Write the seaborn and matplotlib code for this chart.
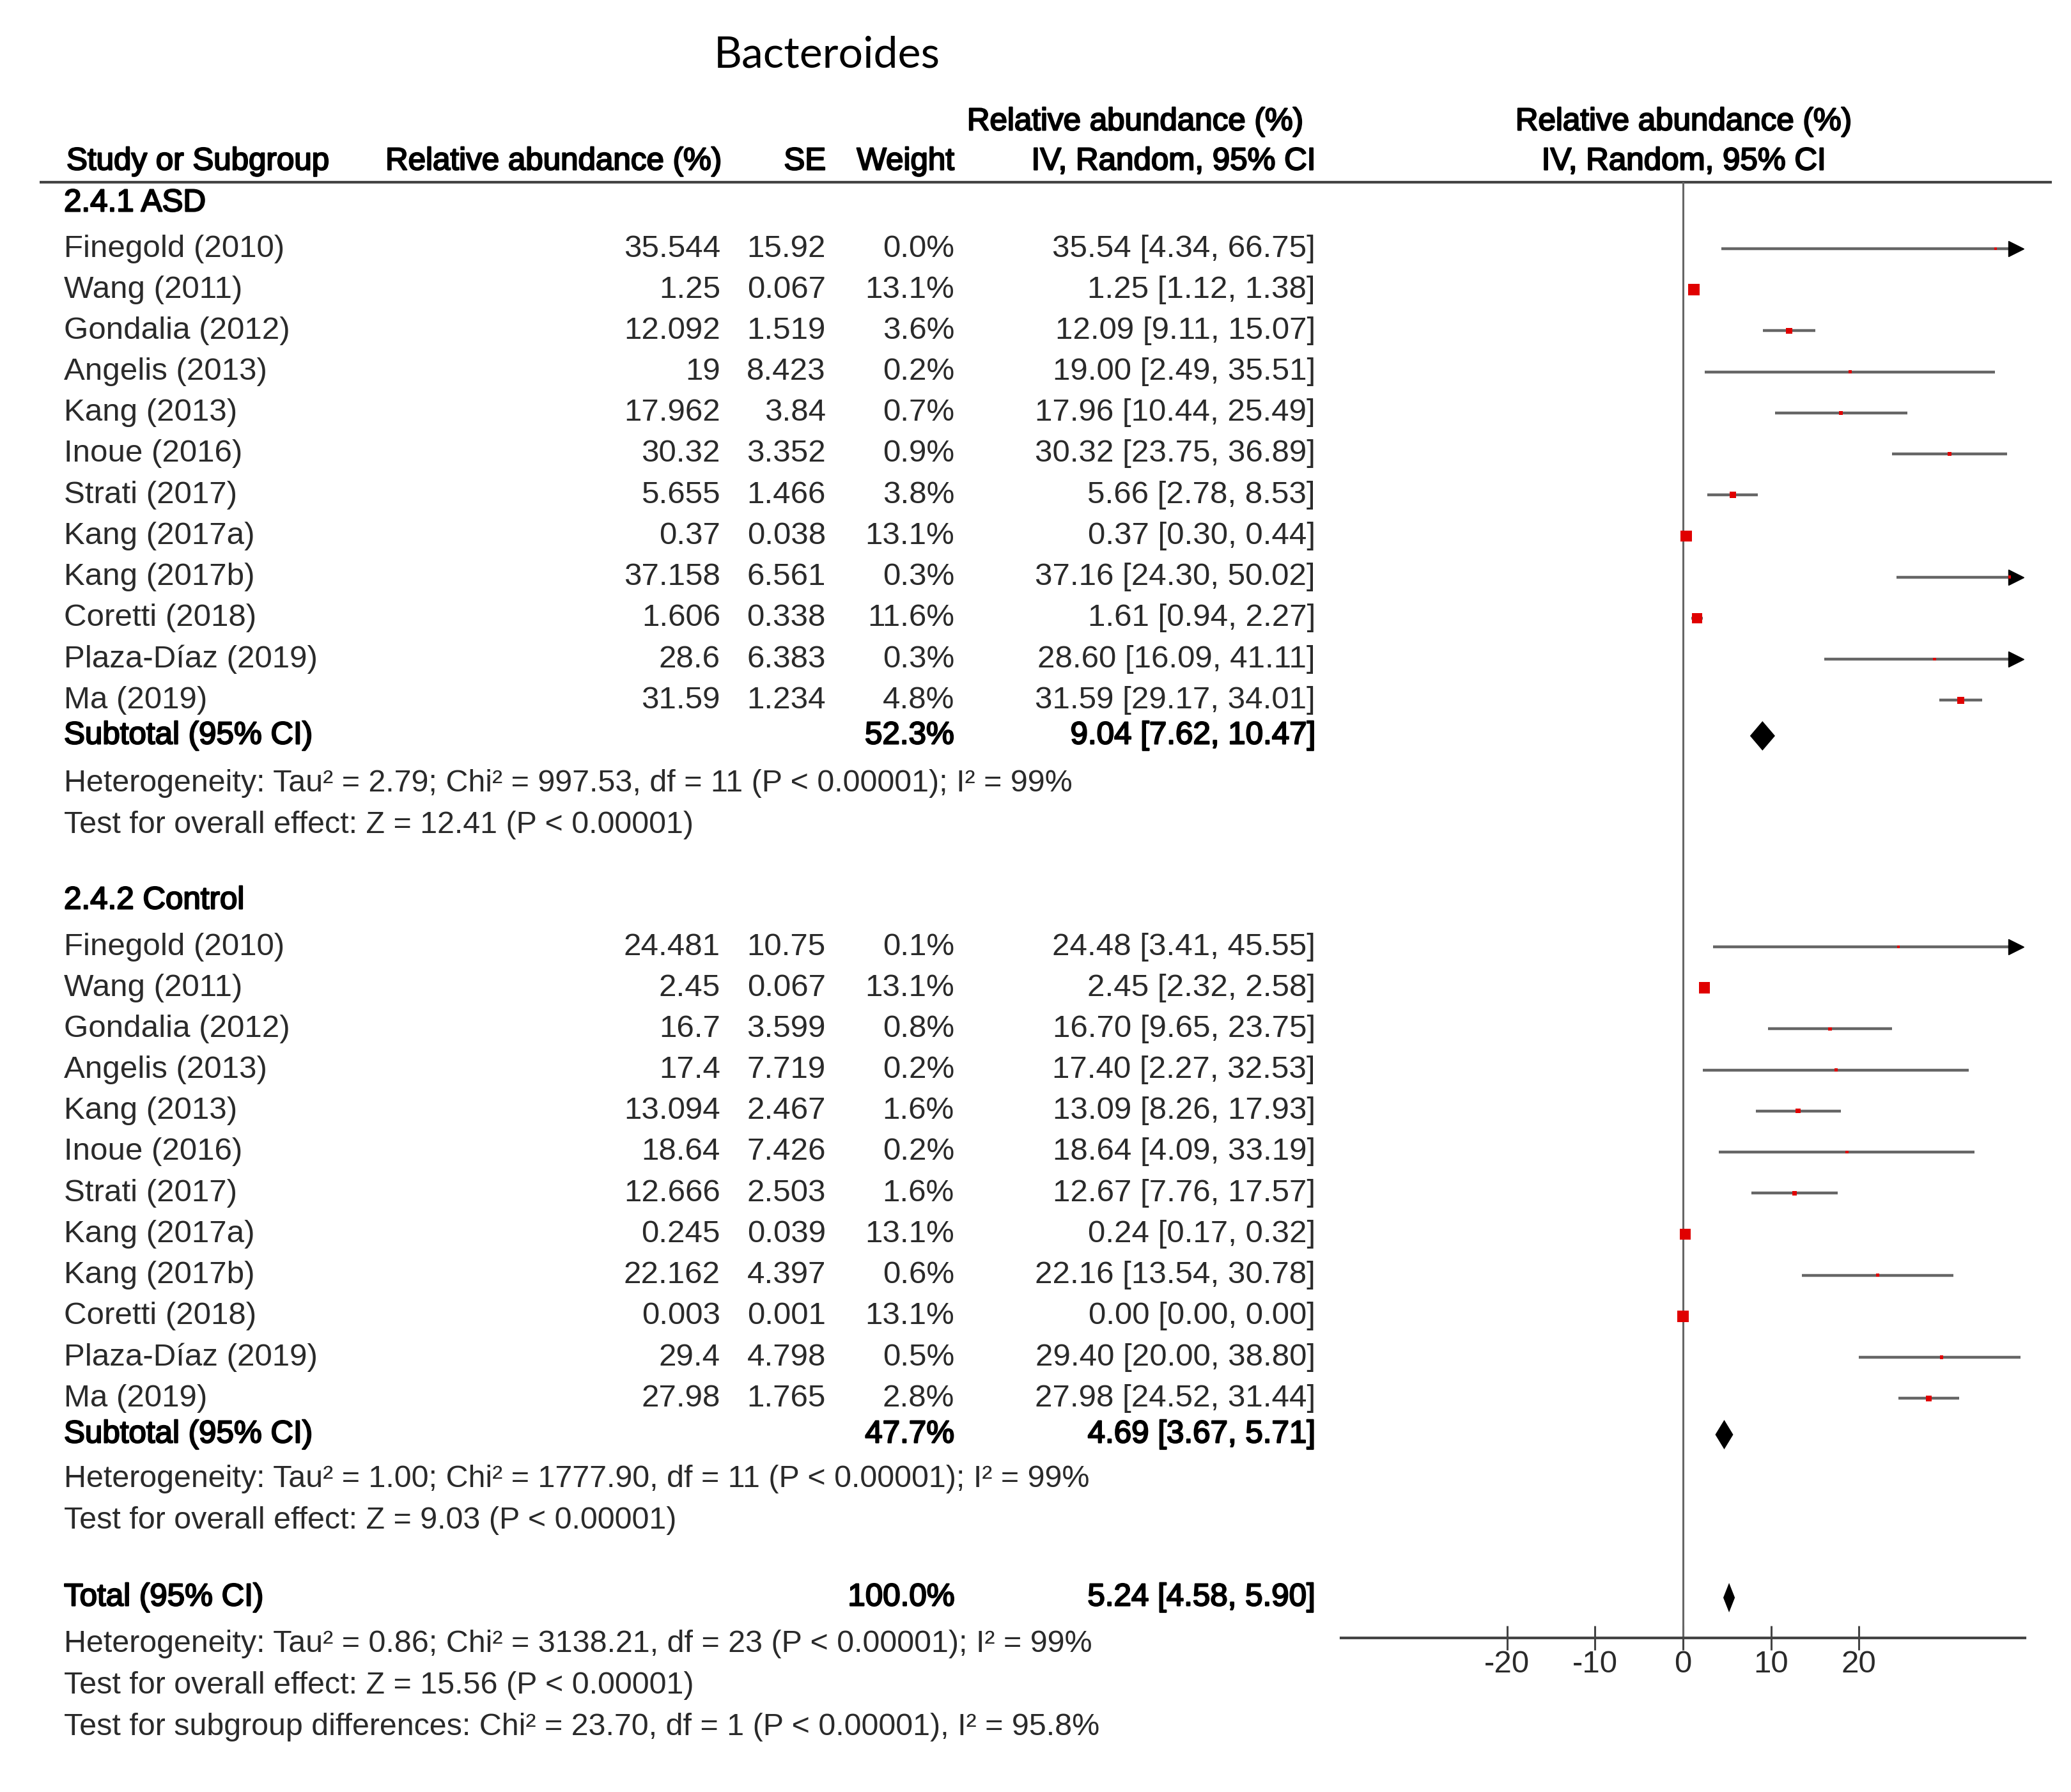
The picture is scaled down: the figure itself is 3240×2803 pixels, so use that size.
import numpy as np
import pandas as pd
import seaborn as sns
import matplotlib.pyplot as plt
import matplotlib.patheffects as pe

sns.set_style('white')
plt.rcParams['font.family'] = ['Liberation Sans', 'DejaVu Sans']

# study data
studies = ['Finegold (2010)', 'Wang (2011)', 'Gondalia (2012)', 'Angelis (2013)', 'Kang (2013)',
           'Inoue (2016)', 'Strati (2017)', 'Kang (2017a)', 'Kang (2017b)', 'Coretti (2018)',
           'Plaza-Díaz (2019)', 'Ma (2019)']

asd_mean = [35.544, 1.25, 12.092, 19, 17.962, 30.32, 5.655, 0.37, 37.158, 1.606, 28.6, 31.59]
asd_se = [15.92, 0.067, 1.519, 8.423, 3.84, 3.352, 1.466, 0.038, 6.561, 0.338, 6.383, 1.234]
asd_weight = [0.0, 13.1, 3.6, 0.2, 0.7, 0.9, 3.8, 13.1, 0.3, 11.6, 0.3, 4.8]
asd_est = [35.54, 1.25, 12.09, 19.00, 17.96, 30.32, 5.66, 0.37, 37.16, 1.61, 28.60, 31.59]
asd_lo = [4.34, 1.12, 9.11, 2.49, 10.44, 23.75, 2.78, 0.30, 24.30, 0.94, 16.09, 29.17]
asd_hi = [66.75, 1.38, 15.07, 35.51, 25.49, 36.89, 8.53, 0.44, 50.02, 2.27, 41.11, 34.01]

ctl_mean = [24.481, 2.45, 16.7, 17.4, 13.094, 18.64, 12.666, 0.245, 22.162, 0.003, 29.4, 27.98]
ctl_se = [10.75, 0.067, 3.599, 7.719, 2.467, 7.426, 2.503, 0.039, 4.397, 0.001, 4.798, 1.765]
ctl_weight = [0.1, 13.1, 0.8, 0.2, 1.6, 0.2, 1.6, 13.1, 0.6, 13.1, 0.5, 2.8]
ctl_est = [24.48, 2.45, 16.70, 17.40, 13.09, 18.64, 12.67, 0.24, 22.16, 0.00, 29.40, 27.98]
ctl_lo = [3.41, 2.32, 9.65, 2.27, 8.26, 4.09, 7.76, 0.17, 13.54, 0.00, 20.00, 24.52]
ctl_hi = [45.55, 2.58, 23.75, 32.53, 17.93, 33.19, 17.57, 0.32, 30.78, 0.00, 38.80, 31.44]

# pooled: ASD subtotal, Control subtotal, Total
pooled_label = ['Subtotal (95% CI)', 'Subtotal (95% CI)', 'Total (95% CI)']
pooled_weight = ['52.3%', '47.7%', '100.0%']
pooled_est = [9.04, 4.69, 5.24]
pooled_lo = [7.62, 3.67, 4.58]
pooled_hi = [10.47, 5.71, 5.90]

het_asd = ['Heterogeneity: Tau² = 2.79; Chi² = 997.53, df = 11 (P < 0.00001); I² = 99%',
           'Test for overall effect: Z = 12.41 (P < 0.00001)']
het_ctl = ['Heterogeneity: Tau² = 1.00; Chi² = 1777.90, df = 11 (P < 0.00001); I² = 99%',
           'Test for overall effect: Z = 9.03 (P < 0.00001)']
het_tot = ['Heterogeneity: Tau² = 0.86; Chi² = 3138.21, df = 23 (P < 0.00001); I² = 99%',
           'Test for overall effect: Z = 15.56 (P < 0.00001)',
           'Test for subgroup differences: Chi² = 23.70, df = 1 (P < 0.00001), I² = 95.8%']

xticks = [-20, -10, 0, 10, 20]
xmax = 38.9

# layout (pixel rows of the 3241 x 2803 canvas)
W, H = 3241, 2803
step = 64.2
y_asd = 389 + step * np.arange(12)
y_ctl = 1481 + step * np.arange(12)
y_pool = [1151, 2244, 2499]
fs = 35.5
fs_het = 34.8
tc = '#2a2a2a'
heavy = [pe.withStroke(linewidth=1.6, foreground='black')]

fig = plt.figure(figsize=(W / 100, H / 100), dpi=100)
tx = fig.add_axes([0, 0, 1, 1])
tx.set_xlim(0, W)
tx.set_ylim(H, 0)
tx.axis('off')


def txt(x, y, s, ha='left', bold=False, size=fs):
    t = tx.text(x, y, s, ha=ha, va='center', fontsize=size,
                color='black' if bold else tc)
    if bold:
        t.set_path_effects(heavy)


tx.text(1294, 87, 'Bacteroides', ha='center', va='center', fontsize=49,
        family=['Lato', 'DejaVu Sans'], color='black')

# column headers
txt(1776, 191, 'Relative abundance (%)', ha='center', bold=True)
txt(2634, 191, 'Relative abundance (%)', ha='center', bold=True)
txt(104, 253, 'Study or Subgroup', bold=True)
txt(603, 253, 'Relative abundance (%)', bold=True)
txt(1292, 253, 'SE', ha='right', bold=True)
txt(1493, 253, 'Weight', ha='right', bold=True)
txt(2058, 253, 'IV, Random, 95% CI', ha='right', bold=True)
txt(2634, 253, 'IV, Random, 95% CI', ha='center', bold=True)
tx.hlines(285, 62, 3210, color='#444444', lw=3)

txt(100, 318, '2.4.1 ASD', bold=True)
txt(100, 1409, '2.4.2 Control', bold=True)

for ys, mean, se, wt, est, lo, hi in [(y_asd, asd_mean, asd_se, asd_weight, asd_est, asd_lo, asd_hi),
                                       (y_ctl, ctl_mean, ctl_se, ctl_weight, ctl_est, ctl_lo, ctl_hi)]:
    for i, y in enumerate(ys):
        txt(100, y, studies[i])
        txt(1127, y, f'{mean[i]:g}', ha='right')
        txt(1292, y, f'{se[i]:g}', ha='right')
        txt(1493, y, f'{wt[i]:.1f}%', ha='right')
        txt(2058, y, f'{est[i]:.2f} [{lo[i]:.2f}, {hi[i]:.2f}]', ha='right')

for i, y in enumerate(y_pool):
    txt(100, y, pooled_label[i], bold=True)
    txt(1493, y, pooled_weight[i], ha='right', bold=True)
    txt(2058, y, f'{pooled_est[i]:.2f} [{pooled_lo[i]:.2f}, {pooled_hi[i]:.2f}]', ha='right', bold=True)

for y0, lines in [(1226, het_asd), (2314, het_ctl), (2572, het_tot)]:
    for k, s in enumerate(lines):
        txt(100, y0 + k * 64.5, s, size=fs_het)

# forest panel
top, bot, left, right = 285, 2562, 2098, 3168
ax = fig.add_axes([left / W, 1 - bot / H, (right - left) / W, (bot - top) / H])
ax.set_facecolor('none')
ax.set_xlim(-xmax, xmax)
ax.set_ylim(bot, top)
ax.axvline(0, color='#666666', lw=2.2, zorder=1)

df = pd.DataFrame({
    'y': np.concatenate([y_asd, y_ctl]),
    'est': asd_est + ctl_est,
    'lo': asd_lo + ctl_lo,
    'hi': asd_hi + ctl_hi,
    'w': asd_weight + ctl_weight,
})
ax.hlines(df['y'], df['lo'], df['hi'].clip(upper=xmax - 0.5), color='#666666', lw=3.2, zorder=2)
over = df[df['hi'] > xmax]
ax.plot(np.full(len(over), xmax - 1.0), over['y'], ls='none', marker='>', ms=17,
        color='black', clip_on=False, zorder=3)
sns.scatterplot(data=df, x='est', y='y', size='w', sizes=(8, 160), size_norm=(0, 13.1),
                marker='s', color='#e00000', linewidth=0, legend=False, ax=ax, zorder=4)

for i, y in enumerate(y_pool):
    ax.fill([pooled_lo[i], pooled_est[i], pooled_hi[i], pooled_est[i]],
            [y, y - 23, y, y + 23], color='black', lw=0, zorder=5)

sns.despine(ax=ax, left=True, top=True, right=True)
ax.spines['bottom'].set_color('#444444')
ax.spines['bottom'].set_linewidth(3)
ax.set_yticks([])
ax.set_xticks(xticks)
ax.set_xticklabels([str(t) for t in xticks])
ax.tick_params(axis='x', bottom=True, direction='inout', length=27, width=2.2, color='#444444',
               labelsize=fs, labelcolor=tc, pad=0)
ax.set_xlabel('')
ax.set_ylabel('')

fig.savefig('out.png', dpi=100)
